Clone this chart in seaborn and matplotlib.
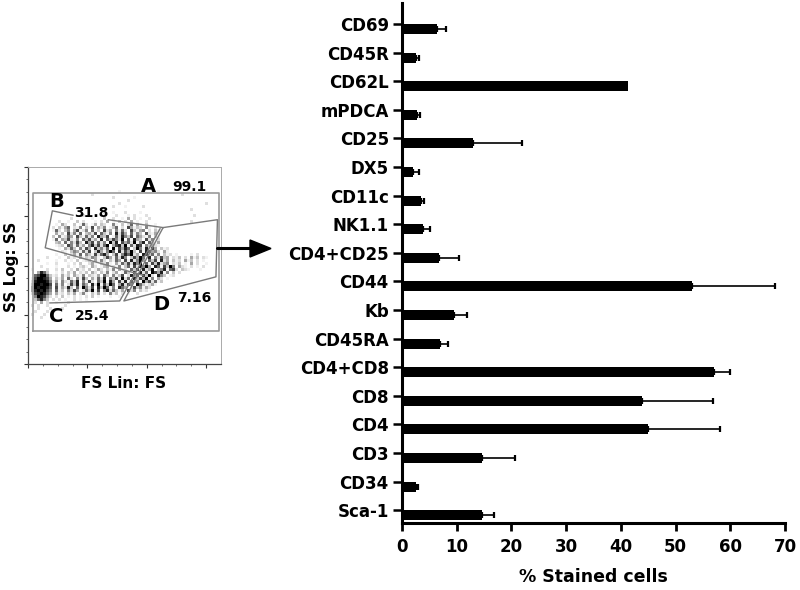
import pandas as pd
import numpy as np
import seaborn as sns
from matplotlib import pyplot as plt

# Bar chart values
markers = ['CD69', 'CD45R', 'CD62L', 'mPDCA', 'CD25', 'DX5', 'CD11c', 'NK1.1', 'CD4+CD25',
           'CD44', 'Kb', 'CD45RA', 'CD4+CD8', 'CD8', 'CD4', 'CD3', 'CD34', 'Sca-1']
stained = [6.4, 2.5, 41.3, 2.7, 12.9, 2.1, 3.4, 3.8, 6.7, 53.0, 9.45, 7.0, 57.1, 43.8, 45.0, 14.7, 2.6, 14.6]
err_top = [8.0, 3.1, 41.3, 3.2, 22.0, 3.1, 4.1, 5.2, 10.4, 68.2, 11.9, 8.4, 59.9, 56.9, 58.1, 20.7, 2.9, 16.8]
x_ticks = [0, 10, 20, 30, 40, 50, 60, 70]

# Darkness of the flow cytometry dots, one string per row, top row first (short rows are padded)
density_rows = [
    "0000000000000000000000000000001000000000000100000000",
    "0000000000000000000002000000000000000000000000000002",
    "0000000000000000000000000000200000010000000000000000",
    "0000000000000000000000000000000002000000000000000000",
    "0000000000000000000000000000002000000000000000000000000000020",
    "00000000000000000000000000002000100000200000000000000000000",
    "0000000000000000000000000100000000000000000000000000002",
    "0000000000000000000000000200100020000100000000000000000",
    "0000000000000000002000100000020001020002000000000000000200",
    "0000000000000020000001000300200104020100200000000000",
    "0000000000200100302000102040103020401002000000000000002",
    "000000000104200301620140320051030260410300100000000000",
    "000000002031460215031704250136020741320510200000000",
    "000000001620350471250613072405162073145020310000000",
    "000000000413072516034270631508274061530721400000000",
    "000000003051264073162508437016285370642150310000000",
    "000000001604372150637241806375290618430725020000000",
    "000000000340615273084716250938074629158063140000000",
    "000000000123075162405837269047839162870534210000000",
    "000000000010426305174083526091748603951827403120000",
    "000000000002103541627038415960827493071864520410000",
    "000000000100302416053172684037158692408736150312010000102",
    "000000200010031204132541037416285037496180527340213020413021",
    "000200000100201030123041520316407182594063718240312041302010",
    "000000100200010203002410325104163728590617382450213010402001",
    "0000200001000201023104201340215036172859408617395042102010200",
    "010000200203002041203014203150412063718249035816720321000100",
    "000486300102031402130420315024016307182609748150302000000",
    "006799631204130421503214063051370284617392085301200000",
    "017998740314062051730416280537192608374915042010000",
    "028999851405216380517206391840728163509472613000",
    "039989970615027381640829173960482750963124100",
    "049899860714283061952708396150864027351420000",
    "048989750613052740263917058263140725031200000",
    "027898640412031402510314020513020100200000",
    "005987420203010201020301000100100000",
    "003685302020100201010000000",
    "002040200100020000000000",
    "020200200000200",
    "000200020002",
    "002000200",
    "0200020",
    "00002",
    "0",
]

# Gates, x in FS units and y in log decades
gate_a_x = [17, 644, 644, 17, 17]
gate_a_y = [0.67, 0.67, 3.48, 3.48, 0.67]
gate_b_x = [152, 82, 58, 388]
gate_b_y = [3.02, 3.11, 2.36, 1.80]
gate_b2_x = [270, 455]
gate_b2_y = [2.93, 2.77]
gate_c_x = [445, 309, 73]
gate_c_y = [2.75, 1.28, 1.24]
gate_d_x = [455, 638, 633, 323, 455]
gate_d_y = [2.77, 2.93, 1.77, 1.28, 2.77]

sns.set_theme(style="ticks")
plt.rcParams['font.family'] = ['DejaVu Sans']
plt.rcParams['font.weight'] = 'bold'
plt.rcParams['text.color'] = 'black'
plt.rcParams['axes.labelcolor'] = 'black'
plt.rcParams['xtick.labelcolor'] = 'black'
plt.rcParams['ytick.labelcolor'] = 'black'

fig = plt.figure(figsize=(8, 5.9), dpi=100)

# Main horizontal bars
df = pd.DataFrame({'marker': markers, 'stained': stained, 'top': err_top})
ax = fig.add_axes([402 / 800, 67 / 590, 383 / 800, 520 / 590])
sns.barplot(data=df, y='marker', x='stained', order=markers, color='black', saturation=1,
            width=0.35, errorbar=None, edgecolor='black', linewidth=0, ax=ax)
err_df = df[df['top'] > df['stained']]
ax.errorbar(err_df['stained'], err_df.index, xerr=[np.zeros(len(err_df)), err_df['top'] - err_df['stained']],
            fmt='none', ecolor='black', elinewidth=1.2, capsize=2.0, capthick=1.6)
ax.set_xlim(0, 70)
ax.set_ylim(17.27, -0.91)
ax.set_xticks(x_ticks)
# the ticks sit a little above the bars in the original
ax.set_yticks([i - 0.175 for i in range(len(markers))], markers)
ax.tick_params(axis='x', length=5.8, width=2.0, labelsize=12, pad=5, color='black')
ax.tick_params(axis='y', length=6.5, width=1.8, labelsize=12, pad=3, color='black')
ax.set_xlabel('% Stained cells', fontsize=12.5, fontweight='bold', labelpad=9)
ax.set_ylabel('')
sns.despine(ax=ax)
for side in ['left', 'bottom']:
    ax.spines[side].set_linewidth(2.2)
    ax.spines[side].set_color('black')

# Flow cytometry inset
density = np.array([[int(c) for c in row.ljust(64, '0')] for row in density_rows])
dens_ax = fig.add_axes([28 / 800, (590 - 322) / 590, 192 / 800, 132 / 590])
sns.heatmap(density, ax=dens_ax, cbar=False, cmap='Greys', vmin=0, vmax=9,
            xticklabels=False, yticklabels=False)
dens_ax.set_axis_off()

gate_ax = fig.add_axes([28 / 800, 226 / 590, 193 / 800, 197 / 590], facecolor='none')
gate_ax.set_xlim(0, 650)
gate_ax.set_ylim(0, 4)
gate_color = '#7a7a7a'
gate_ax.plot(gate_a_x, gate_a_y, color='#9a9a9a', lw=1.2)
gate_ax.plot(gate_b_x, gate_b_y, color=gate_color, lw=1.0)
gate_ax.plot(gate_b2_x, gate_b2_y, color=gate_color, lw=1.0)
gate_ax.plot(gate_c_x, gate_c_y, color=gate_color, lw=1.0)
gate_ax.plot(gate_d_x, gate_d_y, color=gate_color, lw=1.0)
gate_ax.set_xticks([0, 200, 400, 600], [])
gate_ax.set_xticks(range(0, 650, 50), minor=True)
gate_ax.set_yticks([0, 1, 2, 3, 4], [])
gate_ax.set_yticks(np.arange(0, 4.01, 0.25), minor=True)
gate_ax.tick_params(which='major', length=3, width=0.8, color='#333333')
gate_ax.tick_params(which='minor', length=1.5, width=0.6, color='#555555')
for side in ['left', 'bottom']:
    gate_ax.spines[side].set_linewidth(0.9)
    gate_ax.spines[side].set_color('#444444')
for side in ['top', 'right']:
    gate_ax.spines[side].set_linewidth(0.7)
    gate_ax.spines[side].set_color('#aaaaaa')

def px_text(x, y, s, size, **kw):
    fig.text(x / 800, 1 - y / 590, s, fontsize=size, fontweight='bold', ha='center', va='center',
             color='black', **kw)

px_text(148, 186, 'A', 14)
px_text(57, 202, 'B', 14)
px_text(56, 317, 'C', 14)
px_text(161, 304, 'D', 14)
px_text(189, 187, '99.1', 10)
px_text(91, 213, '31.8', 10)
px_text(92, 316, '25.4', 10)
px_text(194, 298, '7.16', 10)
px_text(124, 383, 'FS Lin: FS', 11)
px_text(12, 267, 'SS Log: SS', 11, rotation=90)

# Arrow from the gate to the bars
fig.add_artist(plt.Line2D([217 / 800, 252 / 800], [1 - 248 / 590] * 2, color='black', lw=2.2))
fig.add_artist(plt.Polygon([[250 / 800, 1 - 240 / 590], [271 / 800, 1 - 248.5 / 590], [250 / 800, 1 - 257 / 590]],
                           closed=True, color='black', transform=fig.transFigure))

fig.savefig('out.png', dpi=100)
